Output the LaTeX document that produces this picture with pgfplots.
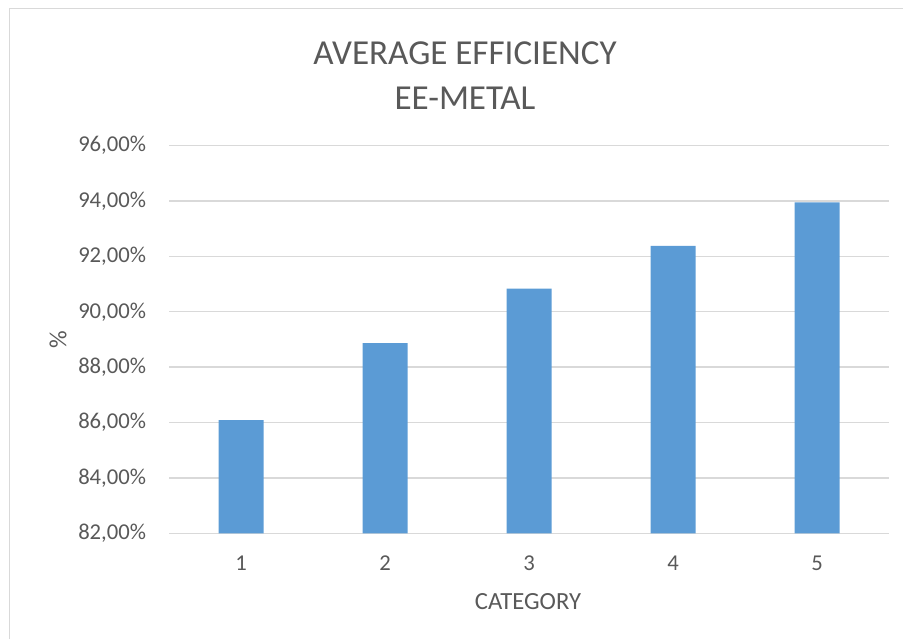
\documentclass[border=0pt]{standalone}
\usepackage{pgfplots}
\pgfplotsset{compat=1.18}
\usepackage{fontspec}
\setmainfont{Carlito}
\definecolor{barblue}{RGB}{91,155,213}
\definecolor{txtgray}{RGB}{89,89,89}
\definecolor{gridgray}{RGB}{217,217,217}
\begin{document}
\begin{tikzpicture}[x=0.75pt,y=0.75pt]
\useasboundingbox (0,0) rectangle (903,639);
\draw[gridgray, line width=1.1pt] (9.3,0) -- (9.3,630.7) -- (903,630.7);
\begin{axis}[
  at={(126.75pt,79.3pt)}, anchor=south west,
  scale only axis, width=540pt, height=290.7pt,
  xmin=0.5, xmax=5.5, ymin=82, ymax=96,
  xtick={1,2,3,4,5},
  ytick={82,84,86,88,90,92,94,96},
  yticklabels={{82,00\%},{84,00\%},{86,00\%},{88,00\%},{90,00\%},{92,00\%},{94,00\%},{96,00\%}},
  xticklabels={1,2,3,4,5},
  axis line style={draw=none},
  major tick style={draw=none},
  ymajorgrids, grid style={gridgray, line width=1pt},
  yticklabel style={font=\fontsize{17}{20}\selectfont, text=txtgray, anchor=east, inner sep=0pt, xshift=-17pt},
  xticklabel style={font=\fontsize{17}{20}\selectfont, text=txtgray, anchor=center, inner sep=0pt, yshift=-22.3pt},
  clip=false,
]
\addplot[ybar, bar width=33.75pt, fill=barblue, draw=none] coordinates {
(1,86.09) (2,88.87) (3,90.84) (4,92.38) (5,93.95)
};
\end{axis}
\node[text=txtgray, font=\fontsize{26.3}{31}\selectfont] at (465,586) {AVERAGE EFFICIENCY};
\node[text=txtgray, font=\fontsize{26.3}{31}\selectfont] at (465,541) {EE-METAL};
\node[text=txtgray, font=\fontsize{18.5}{22}\selectfont] at (528,37) {CATEGORY};
\node[text=txtgray, font=\fontsize{18.5}{22}\selectfont, rotate=90] at (58,299) {\%};
\end{tikzpicture}
\end{document}
